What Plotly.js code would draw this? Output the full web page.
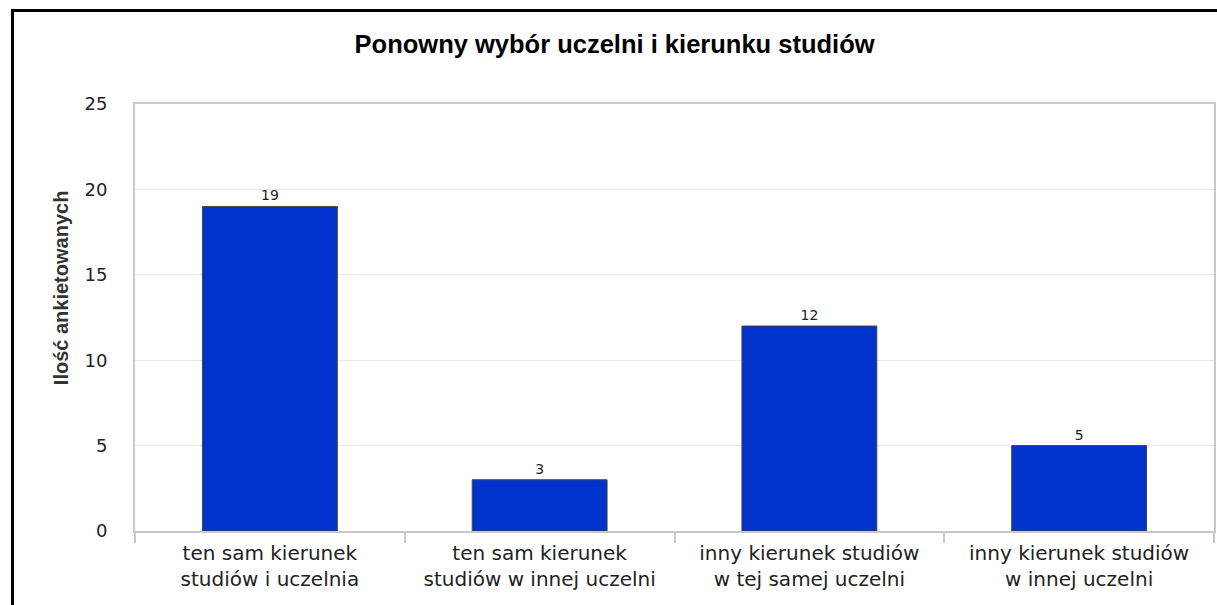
<!DOCTYPE html>
<html>
<head>
<meta charset="utf-8">
<script src="https://cdn.plot.ly/plotly-3.0.1.min.js"></script>
<style>
html,body{margin:0;padding:0;background:#fff;overflow:hidden;}
#frame{position:absolute;left:11px;top:9px;width:1400px;height:800px;border:3px solid #000;box-sizing:border-box;pointer-events:none;z-index:5;}
#chart{position:absolute;left:0;top:0;width:1217px;height:605px;}
</style>
</head>
<body>
<div id="chart"></div>
<div id="frame"></div>
<script>
const categories = [
  "ten sam kierunek<br>studiów i uczelnia",
  "ten sam kierunek<br>studiów w innej uczelni",
  "inny kierunek studiów<br>w tej samej uczelni",
  "inny kierunek studiów<br>w innej uczelni"
];
const values = [19, 3, 12, 5];
const yTicks = [0, 5, 10, 15, 20, 25];
const chartTitle = "Ponowny wybór uczelni i kierunku studiów";
const yTitle = "Ilość ankietowanych";

const trace = {
  type: "bar",
  x: categories,
  y: values,
  text: values.map(String),
  textposition: "outside",
  cliponaxis: false,
  textfont: {family: "DejaVu Sans, sans-serif", size: 14, color: "#222"},
  marker: {color: "#0033cc", line: {color: "#444", width: 1}},
  hoverinfo: "none"
};

const layout = {
  width: 1217, height: 605,
  margin: {l: 135, r: 3, t: 104, b: 74},
  paper_bgcolor: "#fff", plot_bgcolor: "#fff",
  showlegend: false,
  bargap: 0.5,
  title: {
    text: "<b>" + chartTitle + "</b>",
    font: {family: "Liberation Sans, Arial, sans-serif", size: 25.5, color: "#000"},
    x: 0.505, xanchor: "center", y: 0.927, yanchor: "middle"
  },
  xaxis: {
    type: "category",
    showline: true, linecolor: "#c8c8c8", linewidth: 2, mirror: true,
    ticks: "outside", tickson: "boundaries", ticklen: 10, tickcolor: "#c8c8c8", tickwidth: 2,
    ticklabelstandoff: 3,
    tickfont: {family: "DejaVu Sans, sans-serif", size: 20, color: "#222"},
    showgrid: false, automargin: false
  },
  yaxis: {
    range: [0, 25], tickvals: yTicks, ticktext: yTicks.map(String),
    showline: true, linecolor: "#c8c8c8", linewidth: 2, mirror: true,
    gridcolor: "#e8e8e8", gridwidth: 1,
    zeroline: false, ticks: "", ticklabelstandoff: 22,
    tickfont: {family: "DejaVu Sans, sans-serif", size: 18, color: "#222"},
    automargin: false
  },
  annotations: [{
    text: "<b>" + yTitle + "</b>",
    xref: "paper", yref: "paper",
    x: -0.069, y: 0.57, xanchor: "center", yanchor: "middle",
    textangle: -90, showarrow: false,
    font: {family: "Liberation Sans, Arial, sans-serif", size: 20, color: "#333"}
  }]
};

Plotly.newPlot("chart", [trace], layout, {displayModeBar: false, staticPlot: true});
</script>
</body>
</html>
